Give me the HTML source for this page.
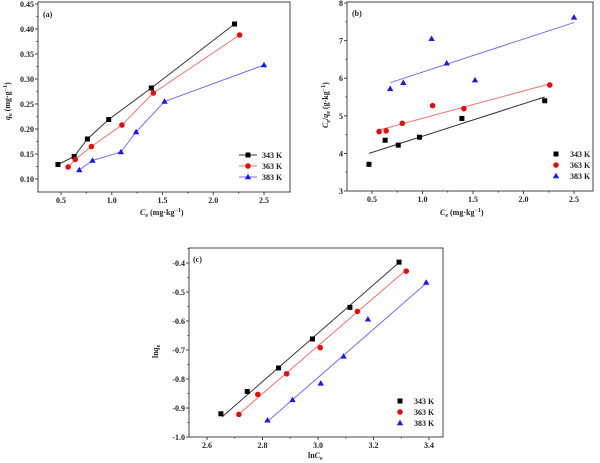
<!DOCTYPE html><html><head><style>body{margin:0;background:#fff}svg{display:block}text{font-family:"Liberation Serif",serif;font-weight:bold;font-size:8px;fill:#222}</style></head><body>
<svg id="s" width="600" height="463" xmlns="http://www.w3.org/2000/svg">
<text x="43" y="17" font-size="9">(a)</text>
<text x="352" y="16" font-size="9">(b)</text>
<text x="193" y="262" font-size="9">(c)</text>
<text x="140" y="215" font-size="9"><tspan font-style="italic">C</tspan><tspan font-size="6" dy="2">e</tspan><tspan dy="-2"> (mg·kg</tspan><tspan font-size="6" dy="-3">−1</tspan><tspan dy="3">)</tspan></text>
<text x="440" y="215" font-size="9"><tspan font-style="italic">C</tspan><tspan font-size="6" dy="2">e</tspan><tspan dy="-2"> (mg·kg</tspan><tspan font-size="6" dy="-3">−1</tspan><tspan dy="3">)</tspan></text>
<text x="308" y="458" font-size="9">ln<tspan font-style="italic">C</tspan><tspan font-size="6" dy="2">e</tspan></text>
<text transform="translate(10,120) rotate(-90)" font-size="9"><tspan font-style="italic">q</tspan><tspan font-size="6" dy="2">e</tspan><tspan dy="-2"> (mg·g</tspan><tspan font-size="6" dy="-3">−1</tspan><tspan dy="3">)</tspan></text>
<text transform="translate(328,128) rotate(-90)" font-size="9"><tspan font-style="italic">C</tspan><tspan font-size="6" dy="2">e</tspan><tspan dy="-2">/</tspan><tspan font-style="italic">q</tspan><tspan font-size="6" dy="2">e</tspan><tspan dy="-2"> (g·kg</tspan><tspan font-size="6" dy="-3">−1</tspan><tspan dy="3">)</tspan></text>
<text transform="translate(158,358) rotate(-90)" font-size="9">ln<tspan font-style="italic">q</tspan><tspan font-size="6" dy="2">e</tspan></text>
</svg>
<script>
var s=document.getElementById('s'),NS='http://www.w3.org/2000/svg';
function el(t,a,txt){var e=document.createElementNS(NS,t);for(var k in a)e.setAttribute(k,a[k]);if(txt)e.textContent=txt;s.appendChild(e);return e;}
var C=['#000','#e01010','#1a1ae0'],LC=['#333','#f07070','#7070f0'];
function mk(i,x,y){if(i==0)el('rect',{x:x-2.5,y:y-2.5,width:5,height:5,fill:C[0]});else if(i==1)el('circle',{cx:x,cy:y,r:2.8,fill:C[1]});else el('path',{d:'M'+x+' '+(y-3.2)+'L'+(x+3.2)+' '+(y+2.3)+'L'+(x-3.2)+' '+(y+2.3)+'Z',fill:C[2]});}
function panel(P){
 var X=function(v){return P.x0+(v-P.vx0)*P.sx},Y=function(v){return P.y0-(v-P.vy0)*P.sy};
 el('rect',{x:P.L,y:P.T,width:P.R-P.L,height:P.B-P.T,fill:'none',stroke:'#444','stroke-width':1});
 P.xt.forEach(function(t){var x=X(+t);el('line',{x1:x,y1:P.B,x2:x,y2:P.B+3,stroke:'#444'});el('text',{x:x,y:P.B+11,'text-anchor':'middle'},t);});
 P.xm.forEach(function(v){var x=X(v);el('line',{x1:x,y1:P.B,x2:x,y2:P.B+1.5,stroke:'#444'});});
 P.yt.forEach(function(t){var y=Y(+t);el('line',{x1:P.L,y1:y,x2:P.L-3,y2:y,stroke:'#444'});el('text',{x:P.L-4,y:y+3,'text-anchor':'end'},t);});
 P.ym.forEach(function(v){var y=Y(v);el('line',{x1:P.L,y1:y,x2:P.L-1.5,y2:y,stroke:'#444'});});
 P.d.forEach(function(ser,i){
  if(P.conn){el('polyline',{points:ser.map(function(p){return X(p[0])+','+Y(p[1])}).join(' '),fill:'none',stroke:LC[i],'stroke-width':1});}
  else{var l=P.fit[i];el('line',{x1:X(l[0]),y1:Y(l[1]),x2:X(l[2]),y2:Y(l[3]),stroke:LC[i],'stroke-width':1});}
  ser.forEach(function(p){mk(i,X(p[0]),Y(p[1]));});
 });
 ['343 K','363 K','383 K'].forEach(function(t,i){var y=P.lg[1]+i*11;if(P.conn)el('line',{x1:P.lg[0]-9,y1:y,x2:P.lg[0]+9,y2:y,stroke:LC[i]});mk(i,P.lg[0],y);el('text',{x:P.lg[0]+14,y:y+3},t);});
}
panel({L:38,R:290,T:2,B:192,x0:61,vx0:0.5,sx:101.5,y0:179,vy0:0.1,sy:500,conn:true,
 xt:['0.5','1.0','1.5','2.0','2.5'],xm:[0.75,1.25,1.75,2.25],yt:['0.10','0.15','0.20','0.25','0.30','0.35','0.40','0.45'],ym:[0.125,0.175,0.225,0.275,0.325,0.375,0.425],
 d:[[[0.47,0.129],[0.63,0.145],[0.76,0.18],[0.97,0.219],[1.39,0.282],[2.21,0.41]],[[0.57,0.124],[0.64,0.139],[0.8,0.165],[1.1,0.208],[1.41,0.272],[2.26,0.388]],[[0.68,0.118],[0.81,0.137],[1.09,0.154],[1.24,0.194],[1.52,0.255],[2.5,0.328]]],lg:[248,155]});
panel({L:347,R:593,T:2,B:191,x0:372,vx0:0.5,sx:101,y0:191,vy0:3,sy:37.6,
 xt:['0.5','1.0','1.5','2.0','2.5'],xm:[0.75,1.25,1.75,2.25],yt:['3','4','5','6','7','8'],ym:[3.5,4.5,5.5,6.5,7.5],
 d:[[[0.47,3.71],[0.63,4.35],[0.76,4.22],[0.97,4.43],[1.39,4.93],[2.21,5.4]],[[0.57,4.58],[0.64,4.6],[0.8,4.8],[1.1,5.27],[1.41,5.19],[2.26,5.82]],[[0.68,5.72],[0.81,5.88],[1.09,7.05],[1.24,6.4],[1.52,5.95],[2.5,7.62]]],
 fit:[[0.47,4.0,2.21,5.5],[0.57,4.62,2.26,5.85],[0.68,5.88,2.5,7.48]],lg:[556,154]});
panel({L:189,R:443,T:248,B:437,x0:207,vx0:2.6,sx:277.5,y0:437,vy0:-1.0,sy:290,
 xt:['2.6','2.8','3.0','3.2','3.4'],xm:[2.7,2.9,3.1,3.3],yt:['-1.0','-0.9','-0.8','-0.7','-0.6','-0.5','-0.4'],ym:[-0.95,-0.85,-0.75,-0.65,-0.55,-0.45,-0.35],
 d:[[[2.65,-0.92],[2.745,-0.843],[2.858,-0.762],[2.98,-0.662],[3.115,-0.553],[3.292,-0.397]],[[2.715,-0.922],[2.783,-0.853],[2.887,-0.782],[3.008,-0.692],[3.142,-0.567],[3.318,-0.428]],[[2.818,-0.942],[2.908,-0.872],[3.01,-0.815],[3.092,-0.722],[3.18,-0.594],[3.39,-0.467]]],
 fit:[[2.655,-0.93,3.29,-0.4],[2.71,-0.925,3.31,-0.43],[2.82,-0.945,3.39,-0.47]],lg:[400,401]});
</script></body></html>
